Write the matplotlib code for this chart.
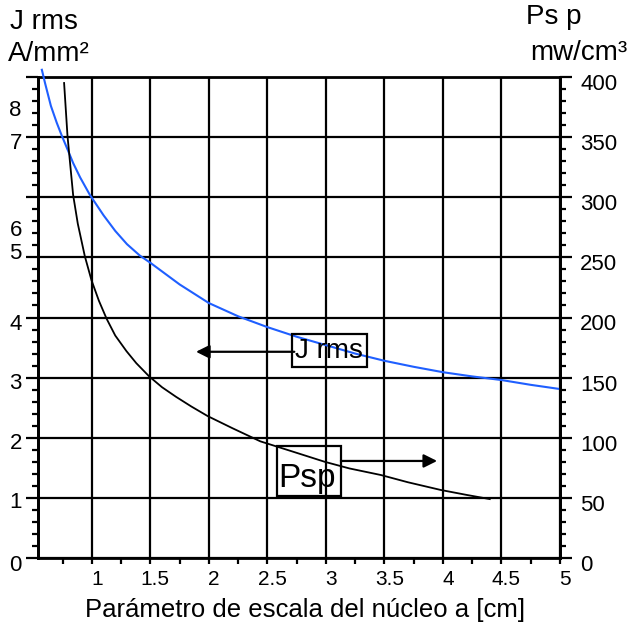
import matplotlib
matplotlib.use("Agg")
import matplotlib.pyplot as plt
from matplotlib.ticker import MultipleLocator, FixedLocator
from matplotlib.transforms import ScaledTranslation, blended_transform_factory

plt.rcParams['font.family'] = ['Liberation Sans', 'DejaVu Sans']

# Current density J rms [A/mm²] vs core scale parameter a [cm]
a_j = [0.573, 0.6, 0.65, 0.7, 0.744, 0.8, 0.84, 0.9, 0.983, 1.1, 1.2, 1.3, 1.41, 1.5,
       1.75, 2.0, 2.25, 2.5, 2.75, 3.0, 3.25, 3.5, 3.75, 4.0, 4.25, 4.5, 4.75, 5.0]
j_rms = [8.12, 7.9, 7.52, 7.24, 7.02, 6.76, 6.57, 6.33, 6.04, 5.7, 5.44, 5.22, 5.03, 4.91,
         4.55, 4.24, 4.02, 3.84, 3.68, 3.54, 3.4, 3.28, 3.18, 3.09, 3.02, 2.96, 2.88, 2.81]

# Specific power loss Psp [mW/cm³] vs core scale parameter a [cm]
a_p = [0.763, 0.792, 0.84, 0.88, 0.94, 0.997, 1.06, 1.126, 1.2, 1.296, 1.38, 1.49, 1.6,
       1.72, 1.85, 1.99, 2.2, 2.44, 2.7, 2.99, 3.2, 3.47, 3.7, 3.98, 4.2, 4.4]
p_sp = [395, 351, 302, 278, 251, 231, 214, 199, 185, 172, 162, 151, 142,
        134, 126, 118, 108, 97, 89, 80, 74.5, 69, 63, 56.6, 52.5, 49]

x_ticks = [1, 1.5, 2, 2.5, 3, 3.5, 4, 4.5, 5]
x_tick_labels = ["1", "1.5", "2", "2.5", "3", "3.5", "4", "4.5", "5"]
left_labels = ["0", "1", "2", "3", "4", "5", "6", "7", "8"]
right_ticks = [0, 50, 100, 150, 200, 250, 300, 350, 400]

fig = plt.figure(figsize=(6.29, 6.30), dpi=100)
ax = fig.add_axes([38 / 629, 1 - 558 / 630, 522 / 629, 481 / 630])
ax2 = ax.twinx()

LW = 1.6
TICK_FS = 16
ax.set_xlim(0.54, 5.0)
ax.set_ylim(0, 8.0)
ax2.set_ylim(0, 400)

# grid on the left axes (1 A/mm² spacing == 50 mW/cm³ spacing)
ax.xaxis.set_major_locator(FixedLocator(x_ticks))
ax.xaxis.set_minor_locator(FixedLocator([0.75 + 0.5 * i for i in range(9)]))
ax.set_xticklabels(x_tick_labels)
ax.yaxis.set_major_locator(MultipleLocator(1))
ax.yaxis.set_minor_locator(MultipleLocator(0.2))
ax.set_yticklabels([])
ax.grid(True, which='major', color='black', linewidth=LW)
ax.set_axisbelow(True)

ax.tick_params(axis='x', which='both', direction='out', length=4.5, width=LW,
               labelsize=TICK_FS - 1, pad=4)
ax.tick_params(axis='y', which='major', direction='out', length=8.5, width=LW)
ax.tick_params(axis='y', which='minor', direction='out', length=4.5, width=LW)
for lbl in ax.get_xticklabels():
    lbl.set_transform(lbl.get_transform() + ScaledTranslation(5 / 100, 0, fig.dpi_scale_trans))

ax2.yaxis.set_major_locator(FixedLocator(right_ticks))
ax2.yaxis.set_minor_locator(MultipleLocator(10))
ax2.tick_params(axis='y', which='major', direction='out', length=8.5, width=LW,
                labelsize=TICK_FS, pad=6)
ax2.tick_params(axis='y', which='minor', direction='out', length=4.5, width=LW)
for lbl in ax2.get_yticklabels():
    lbl.set_transform(lbl.get_transform() + ScaledTranslation(0, -5 / 100, fig.dpi_scale_trans))

for a in (ax, ax2):
    for s in a.spines.values():
        s.set_linewidth(2.0)
ax2.spines['top'].set_visible(False)
ax2.spines['bottom'].set_visible(False)

# left-hand scale labels
left_label_pos = [-0.12, 0.92, 1.90, 2.90, 3.89, 5.06, 5.44, 6.89, 7.44]
ltrans = blended_transform_factory(ax.transAxes, ax.transData)
for lab, ypos in zip(left_labels, left_label_pos):
    ax.text(-0.031, ypos, lab, transform=ltrans, ha='right', va='center', fontsize=TICK_FS)

# curves
ax.plot(a_j, j_rms, color='#1f5fff', linewidth=1.5, clip_on=False, zorder=3)
ax2.plot(a_p, p_sp, color='black', linewidth=1.3, zorder=3)

# callout labels with arrows
ax.annotate('', xy=(1.89, 3.43), xytext=(2.73, 3.43),
            arrowprops=dict(arrowstyle='-|>', color='black', lw=1.6,
                            mutation_scale=20, shrinkA=0, shrinkB=0))
ax.text(2.74, 3.45, 'J rms', fontsize=20, ha='left', va='center', zorder=4,
        bbox=dict(boxstyle='square,pad=0.12', facecolor='none', edgecolor='black', linewidth=1.6))
ax2.annotate('', xy=(3.95, 80.7), xytext=(3.128, 80.7),
             arrowprops=dict(arrowstyle='-|>', color='black', lw=1.6,
                             mutation_scale=20, shrinkA=0, shrinkB=0))
ax2.add_patch(plt.Rectangle((2.58, 51.6), 0.548, 41.6, fill=False, edgecolor='black',
                            linewidth=1.6, zorder=4))
ax2.text(2.595, 66, 'Psp', fontsize=24, ha='left', va='center', zorder=4)

# axis titles
fig.text(10 / 629, 1 - 22 / 630, 'J rms', fontsize=20, ha='left', va='center')
fig.text(8 / 629, 1 - 54 / 630, 'A/mm²', fontsize=20, ha='left', va='center')
fig.text(526 / 629, 1 - 17 / 630, 'Ps p', fontsize=20, ha='left', va='center')
fig.text(627 / 629, 1 - 53 / 630, 'mw/cm³', fontsize=20, ha='right', va='center')
fig.text(305 / 629, 1 - 610 / 630, 'Parámetro de escala del núcleo a [cm]',
         fontsize=18.5, ha='center', va='center')

fig.savefig('out.png', dpi=100)
